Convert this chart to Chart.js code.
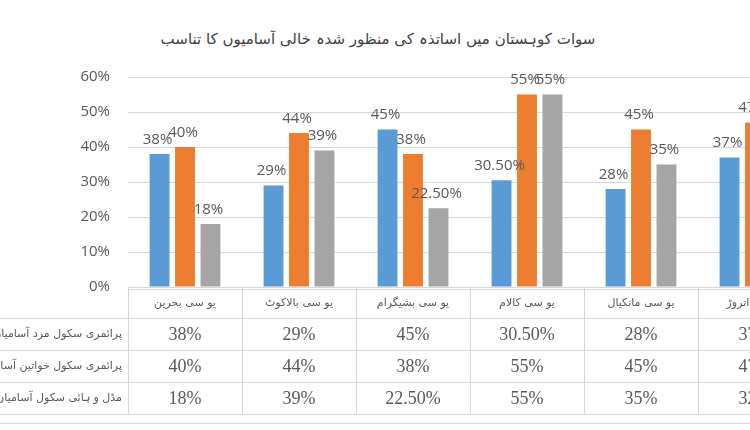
<!DOCTYPE html>
<html>
<head>
<meta charset="utf-8">
<script src="https://cdn.jsdelivr.net/npm/chart.js@4.4.0/dist/chart.umd.min.js"></script>
<style>
  html, body { margin: 0; padding: 0; background: #fff; overflow: hidden; }
  #wrap { position: relative; width: 750px; height: 430px; overflow: hidden; }
  #title {
    position: absolute; left: 0; top: 30px; width: 756px; text-align: center;
    font-family: 'DejaVu Sans', sans-serif; font-size: 15px; color: #404040; direction: rtl;
  }
  canvas { position: absolute; left: 0; top: 0; }
</style>
</head>
<body>
<div id="wrap">
  <div id="title">سوات کوہستان میں اساتذہ کی منظور شدہ خالی آسامیوں کا تناسب</div>
  <canvas id="chart" width="830" height="430"></canvas>
</div>
<script>
const categories = ['یو سی بحرین', 'یو سی بالاکوٹ', 'یو سی بشیگرام', 'یو سی کالام', 'یو سی مانکیال', 'یو سی اتروڑ'];
const seriesNames = ['پرائمری سکول مرد آسامیاں', 'پرائمری سکول خواتین آسامیاں', 'مڈل و ہائی سکول آسامیاں'];
const maleValues = [38, 29, 45, 30.5, 28, 37];
const femaleValues = [40, 44, 38, 55, 45, 47];
const middleValues = [18, 39, 22.5, 55, 35, 32];
const yTicks = [0, 10, 20, 30, 40, 50, 60];
const colors = ['#5B9BD5', '#ED7D31', '#A5A5A5'];

function fmt(v) {
  return Number.isInteger(v) ? v + '%' : v.toFixed(2) + '%';
}

const labelPlugin = {
  id: 'barLabels',
  afterDatasetsDraw(chart) {
    const ctx = chart.ctx;
    ctx.save();
    ctx.font = '15px "Open Sans", sans-serif';
    ctx.fillStyle = '#595959';
    ctx.textAlign = 'center';
    ctx.textBaseline = 'bottom';
    chart.data.datasets.forEach((ds, i) => {
      chart.getDatasetMeta(i).data.forEach((bar, j) => {
        ctx.fillText(fmt(ds.data[j]), bar.x - 2, bar.y - 7);
      });
    });
    ctx.restore();
  }
};

const tablePlugin = {
  id: 'dataTable',
  afterDraw(chart) {
    const ctx = chart.ctx;
    const area = chart.chartArea;
    const x = chart.scales.x;
    const colW = (area.right - area.left) / categories.length;
    const rows = [area.bottom + 2, 318, 350, 382, 414];
    ctx.save();
    ctx.strokeStyle = '#d9d9d9';
    ctx.lineWidth = 1;
    ctx.beginPath();
    ctx.moveTo(area.left, rows[0] + 0.5);
    ctx.lineTo(chart.width, rows[0] + 0.5);
    for (let r = 1; r < rows.length; r++) {
      ctx.moveTo(0, rows[r] + 0.5);
      ctx.lineTo(chart.width, rows[r] + 0.5);
    }
    for (let c = 0; c <= categories.length; c++) {
      const cx = Math.round(area.left + c * colW) + 0.5;
      ctx.moveTo(cx, area.bottom);
      ctx.lineTo(cx, rows[4]);
    }
    ctx.moveTo(0, 423.5);
    ctx.lineTo(chart.width, 423.5);
    ctx.stroke();

    ctx.fillStyle = '#595959';
    ctx.textAlign = 'center';
    ctx.textBaseline = 'middle';
    ctx.font = '11px "DejaVu Sans", sans-serif';
    categories.forEach((c, i) => {
      ctx.fillText(c, x.getPixelForValue(i), (rows[0] + rows[1]) / 2);
    });
    ctx.font = '18px "Liberation Serif", serif';
    [maleValues, femaleValues, middleValues].forEach((vals, r) => {
      vals.forEach((v, i) => {
        ctx.fillText(fmt(v), x.getPixelForValue(i), (rows[r + 1] + rows[r + 2]) / 2 + 1);
      });
    });
    ctx.textAlign = 'right';
    ctx.font = '11px "DejaVu Sans", sans-serif';
    seriesNames.forEach((name, r) => {
      ctx.fillText(name, area.left - 6, (rows[r + 1] + rows[r + 2]) / 2);
    });
    ctx.restore();
  }
};

new Chart(document.getElementById('chart'), {
  type: 'bar',
  data: {
    labels: categories,
    datasets: [
      { label: seriesNames[0], data: maleValues, backgroundColor: colors[0] },
      { label: seriesNames[1], data: femaleValues, backgroundColor: colors[1] },
      { label: seriesNames[2], data: middleValues, backgroundColor: colors[2] },
    ],
  },
  options: {
    responsive: false,
    animation: false,
    layout: { padding: { top: 77, bottom: 143, left: 0, right: 18 } },
    datasets: { bar: { categoryPercentage: 0.67, barPercentage: 0.78 } },
    plugins: { legend: { display: false }, tooltip: { enabled: false } },
    scales: {
      x: {
        grid: { display: false },
        border: { display: false },
        ticks: { display: false },
        afterFit(scale) { scale.height = 0; },
      },
      y: {
        min: 0,
        max: 60,
        afterBuildTicks(scale) { scale.ticks = yTicks.map((v) => ({ value: v })); },
        afterFit(scale) { scale.width = 128; },
        grid: { color: '#d9d9d9', drawTicks: false },
        border: { display: false },
        ticks: {
          padding: 18,
          color: '#595959',
          font: { family: '"Open Sans", sans-serif', size: 15 },
          callback: (v) => v + '%',
        },
      },
    },
  },
  plugins: [labelPlugin, tablePlugin],
});
</script>
</body>
</html>
